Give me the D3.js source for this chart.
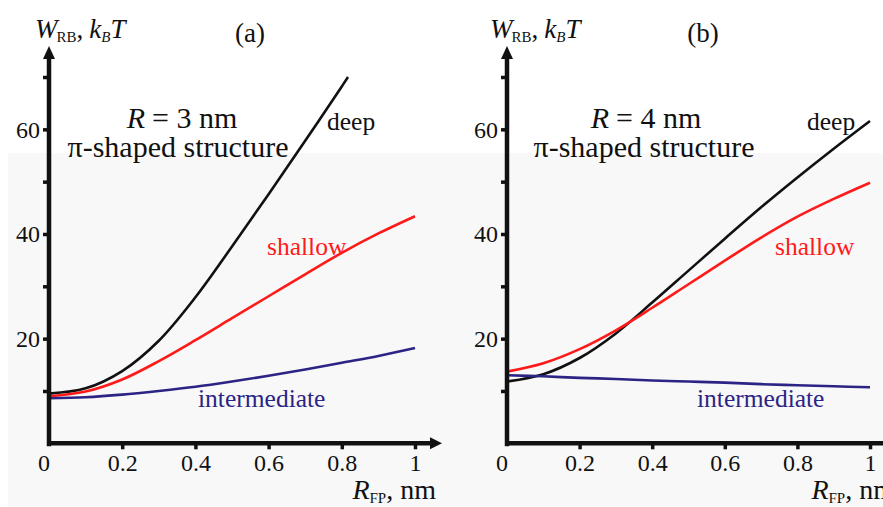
<!DOCTYPE html>
<html>
<head>
    <meta charset="UTF-8">
    <script src="https://d3js.org/d3.v7.min.js"></script>
    <style>
        body { margin: 0; background: #fff; }
    </style>
</head>
<body>
    <script>
        // two panels, R = 3 nm (a) and R = 4 nm (b)
        var w = 883;
        var h = 507;
        var serif = "'Liberation Serif'";

        var xGrid = [0, 0.1, 0.2, 0.3, 0.4, 0.5, 0.6, 0.7, 0.8, 0.9, 1];
        var xTicks = [0.2, 0.4, 0.6, 0.8, 1];
        var yTicks = [10, 20, 30, 40, 50, 60, 70];
        var yLabels = [20, 40, 60];

        // panel (a)
        var deepAX = [0, 0.1, 0.2, 0.3, 0.4, 0.5, 0.6, 0.7, 0.8, 0.817];
        var deepA = [9.5, 10.5, 13.8, 19.6, 27.9, 37.6, 47.6, 57.8, 68.2, 70.0];
        var shallowA = [9.0, 9.9, 12.2, 15.7, 19.7, 23.9, 28.1, 32.3, 36.4, 40.1, 43.4];
        var interA = [8.6, 8.8, 9.3, 10.0, 10.8, 11.8, 12.9, 14.1, 15.4, 16.7, 18.2];

        // panel (b)
        var deepB = [11.8, 13.2, 16.3, 21.0, 26.9, 33.0, 39.1, 45.1, 50.8, 56.3, 61.6];
        var shallowB = [13.7, 15.3, 18.0, 21.6, 25.9, 30.4, 34.9, 39.3, 43.3, 46.7, 49.8];
        var interB = [13.0, 12.8, 12.5, 12.3, 12.0, 11.8, 11.6, 11.3, 11.1, 10.9, 10.7];

        var colDeep = '#111111';
        var colShallow = '#ff1a1a';
        var colInter = '#2b2485';

        var svg = d3.select('body')
                    .append('svg')
                    .attr('width', w)
                    .attr('height', h);

        // pieces laid out one after another
        function richText(parent, x, y, anchor, size, pieces) {
            var g = parent.append('g');
            var cx = 0;
            pieces.forEach(function(pc) {
                var t = g.append('text')
                         .attr('x', cx)
                         .attr('y', pc.dy || 0)
                         .attr('font-size', pc.size || size)
                         .attr('fill', '#111')
                         .style('font-family', serif)
                         .style('font-style', pc.it ? 'italic' : 'normal')
                         .text(pc.t);
                cx += t.node().getComputedTextLength() + (pc.sp || 0);
            });
            var off = anchor === 'middle' ? cx / 2 : anchor === 'end' ? cx : 0;
            g.attr('transform', 'translate(' + (x - off) + ',' + y + ')');
            return g;
        }

        // faint grey band behind lower part
        svg.append('rect')
           .attr('x', 8).attr('y', 153)
           .attr('width', w - 8).attr('height', h - 153)
           .attr('fill', '#f8f8f8');

        var yScale = d3.scaleLinear().domain([0, 70]).range([443.3, 77]);

        var panels = [
            {
                x0: 49, x1: 415, arrowEnd: 442, tag: '(a)', tagX: 250, labX: 35, rfpEnd: 436,
                rText: '3', rX: 182, sX: 178,
                series: [
                    { xs: deepAX, ys: deepA, c: colDeep },
                    { xs: xGrid, ys: shallowA, c: colShallow },
                    { xs: xGrid, ys: interA, c: colInter }
                ],
                labels: [
                    { t: 'deep', x: 327, y: 130, c: colDeep },
                    { t: 'shallow', x: 267, y: 255, c: colShallow },
                    { t: 'intermediate', x: 198, y: 407, c: colInter }
                ]
            },
            {
                x0: 507, x1: 870, arrowEnd: 900, tag: '(b)', tagX: 703, labX: 490, rfpEnd: 895,
                rText: '4', rX: 646, sX: 644,
                series: [
                    { xs: xGrid, ys: deepB, c: colDeep },
                    { xs: xGrid, ys: shallowB, c: colShallow },
                    { xs: xGrid, ys: interB, c: colInter }
                ],
                labels: [
                    { t: 'deep', x: 807, y: 130, c: colDeep },
                    { t: 'shallow', x: 775, y: 255, c: colShallow },
                    { t: 'intermediate', x: 697, y: 407, c: colInter }
                ]
            }
        ];

        panels.forEach(function(p) {
            var xScale = d3.scaleLinear().domain([0, 1]).range([p.x0, p.x1]);
            var g = svg.append('g');

            // curves
            var line = d3.line()
                         .x(function(d) { return xScale(d[0]); })
                         .y(function(d) { return yScale(d[1]); })
                         .curve(d3.curveCatmullRom.alpha(0.5));
            p.series.forEach(function(s) {
                g.append('path')
                 .datum(s.xs.map(function(v, i) { return [v, s.ys[i]]; }))
                 .attr('d', line)
                 .attr('fill', 'none')
                 .attr('stroke', s.c)
                 .attr('stroke-width', 2.6);
            });

            // y axis
            var yAxis = d3.axisLeft(yScale)
                          .tickValues(yTicks)
                          .tickSize(6)
                          .tickPadding(3)
                          .tickFormat(function(d) { return yLabels.indexOf(d) >= 0 ? d : ''; });
            var ya = g.append('g')
                      .attr('transform', 'translate(' + p.x0 + ',0)')
                      .call(yAxis);
            ya.select('.domain').remove();
            ya.selectAll('line').attr('stroke', '#111').attr('stroke-width', 3.5);
            ya.selectAll('text').attr('font-size', 24).attr('fill', '#111')
              .style('font-family', serif);

            // x axis
            var xAxis = d3.axisBottom(xScale)
                          .tickValues(xTicks)
                          .tickSize(6)
                          .tickPadding(5)
                          .tickFormat(function(d) { return d === 1 ? '1' : d; });
            var xa = g.append('g')
                      .attr('transform', 'translate(0,' + yScale(0) + ')')
                      .call(xAxis);
            xa.select('.domain').remove();
            xa.selectAll('line').attr('stroke', '#111').attr('stroke-width', 3.5);
            xa.selectAll('text').attr('font-size', 24).attr('fill', '#111')
              .style('font-family', serif);

            g.append('text')
             .attr('x', p.x0 - 5).attr('y', 471)
             .attr('text-anchor', 'middle')
             .attr('font-size', 24).attr('fill', '#111')
             .style('font-family', serif)
             .text('0');

            // axis lines with arrows
            var y0 = yScale(0);
            g.append('line')
             .attr('x1', p.x0).attr('x2', p.x0)
             .attr('y1', y0 + 3).attr('y2', 58)
             .attr('stroke', '#111').attr('stroke-width', 4.5);
            g.append('path')
             .attr('d', 'M' + (p.x0 - 6) + ',59 L' + p.x0 + ',46 L' + (p.x0 + 6) + ',59 Z')
             .attr('fill', '#111');
            g.append('line')
             .attr('x1', p.x0 - 2).attr('x2', p.arrowEnd - 10)
             .attr('y1', y0).attr('y2', y0)
             .attr('stroke', '#111').attr('stroke-width', 4.5);
            g.append('path')
             .attr('d', 'M' + (p.arrowEnd - 12) + ',' + (y0 - 6) + ' L' + p.arrowEnd + ',' + y0 +
                   ' L' + (p.arrowEnd - 12) + ',' + (y0 + 6) + ' Z')
             .attr('fill', '#111');

            // axis titles
            richText(g, p.labX, 38, 'start', 27, [
                { t: 'W', it: true, sp: -1 },
                { t: 'RB', size: 15, dy: 4 },
                { t: ',', sp: 6 },
                { t: 'k', it: true },
                { t: 'B', size: 15, dy: 4, it: true },
                { t: 'T', it: true }
            ]);

            g.append('text')
             .attr('x', p.tagX).attr('y', 42)
             .attr('text-anchor', 'middle')
             .attr('font-size', 27).attr('fill', '#111')
             .style('font-family', serif)
             .text(p.tag);

            richText(g, p.rfpEnd, 499, 'end', 28, [
                { t: 'R', it: true },
                { t: 'FP', size: 15, dy: 4 },
                { t: ',', sp: 7 },
                { t: 'nm' }
            ]);

            // annotation
            richText(g, p.rX, 128, 'middle', 30, [
                { t: 'R', it: true, sp: 7 },
                { t: '= ' + p.rText + ' nm' }
            ]);
            g.append('text')
             .attr('x', p.sX).attr('y', 157)
             .attr('text-anchor', 'middle')
             .attr('font-size', 30).attr('fill', '#111')
             .style('font-family', serif)
             .text('\u03c0-shaped structure');

            // curve labels
            p.labels.forEach(function(l) {
                g.append('text')
                 .attr('x', l.x).attr('y', l.y)
                 .attr('font-size', 25.5).attr('fill', l.c)
                 .style('font-family', serif)
                 .text(l.t);
            });
        });
    </script>
</body>
</html>
